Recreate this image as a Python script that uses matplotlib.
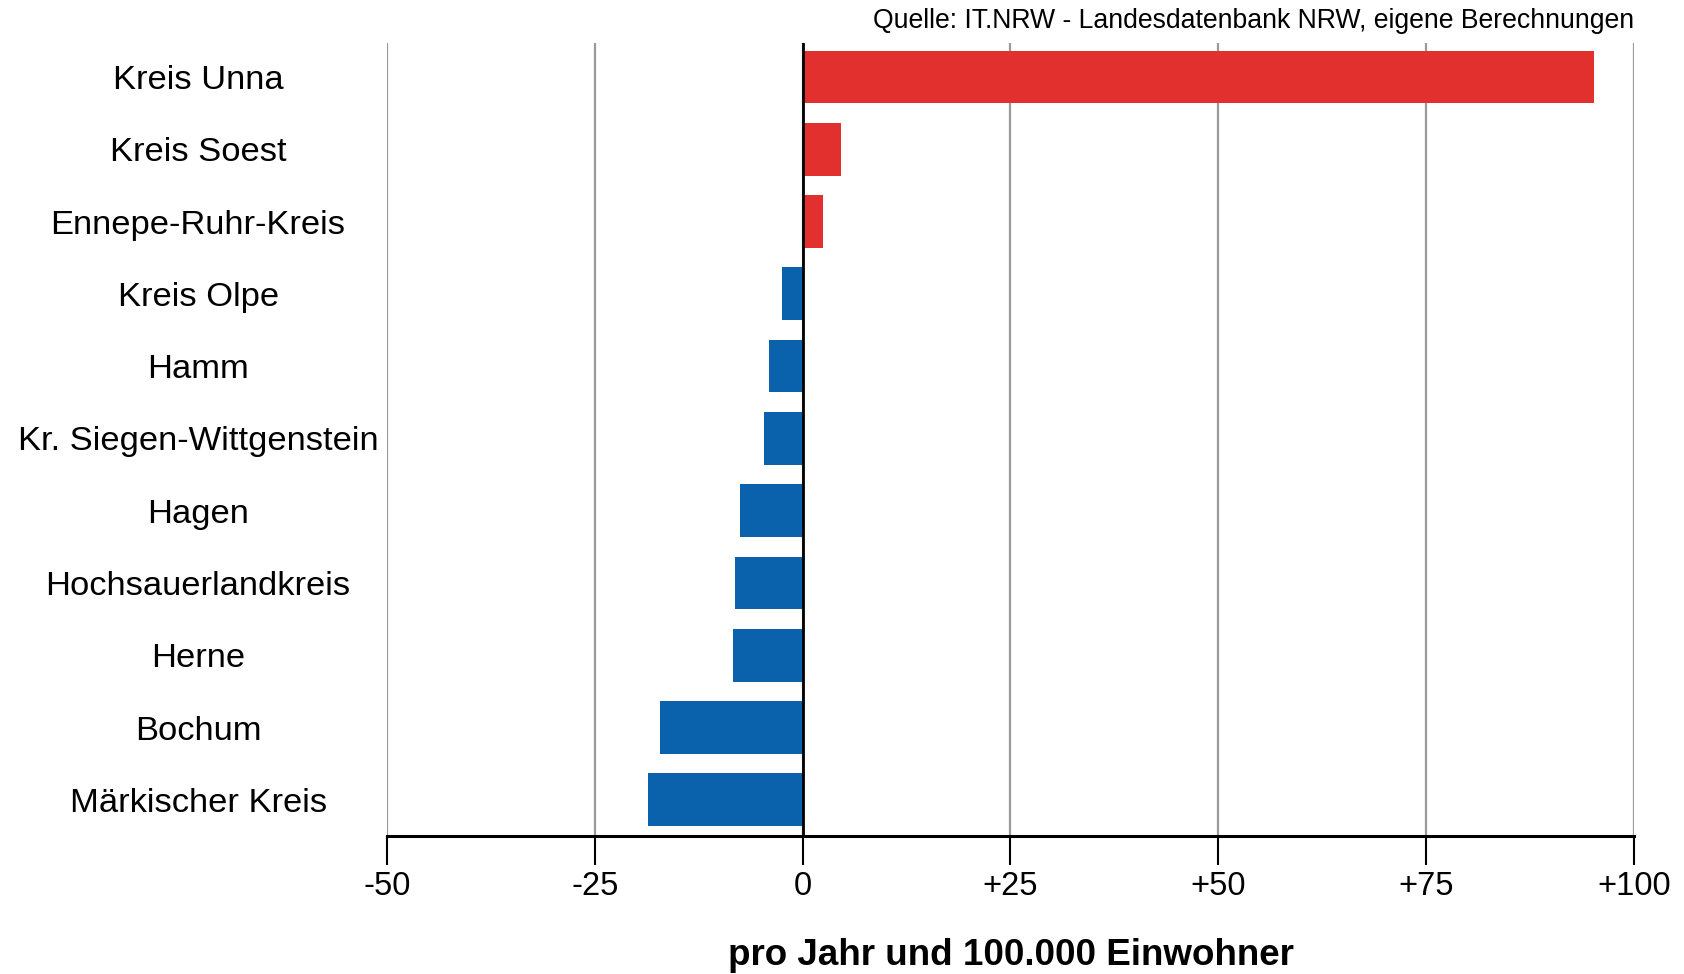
import matplotlib.pyplot as plt
import numpy as np

plt.rcParams['font.family'] = ['Liberation Sans', 'DejaVu Sans']

# Kreise / kreisfreie Staedte, von oben nach unten
regions = ['Kreis Unna', 'Kreis Soest', 'Ennepe-Ruhr-Kreis', 'Kreis Olpe', 'Hamm',
           'Kr. Siegen-Wittgenstein', 'Hagen', 'Hochsauerlandkreis', 'Herne',
           'Bochum', 'Märkischer Kreis']
values = [95.2, 4.6, 2.4, -2.5, -4.0, -4.6, -7.5, -8.1, -8.35, -17.1, -18.6]

xticks = [-50, -25, 0, 25, 50, 75, 100]
xticklabels = ['-50', '-25', '0', '+25', '+50', '+75', '+100']

red = '#e2302f'
blue = '#0a62ad'

fig = plt.figure(figsize=(16.84, 9.74), dpi=100)
ax = fig.add_axes([0.2298, 0.1417, 0.7405, 0.8142])

y = np.arange(len(regions))[::-1]
colors = [red if v > 0 else blue for v in values]
ax.barh(y, values, height=0.73, color=colors, zorder=3)

ax.set_xlim(-50, 100)
ax.set_ylim(-0.5, 10.47)
ax.set_xticks(xticks)
ax.set_xticklabels(xticklabels, fontsize=23.5)
ax.set_yticks(y)
ax.set_yticklabels(regions, fontsize=24.8)
for lbl in ax.get_yticklabels():
    lbl.set_horizontalalignment('center')

ax.tick_params(axis='y', length=0, pad=136)
ax.tick_params(axis='x', direction='out', length=21, width=1.5, color='black', pad=4)

ax.grid(axis='x', color='#9a9a9a', linewidth=1.6, zorder=1)
ax.axvline(0, color='black', linewidth=2, zorder=4)

for s in ['top', 'right', 'left']:
    ax.spines[s].set_visible(False)
ax.spines['bottom'].set_linewidth(2.2)
ax.spines['bottom'].set_zorder(5)

ax.set_xlabel('pro Jahr und 100.000 Einwohner', fontsize=26.5, fontweight='bold', labelpad=26)

fig.text(0.9703, 0.978, 'Quelle: IT.NRW - Landesdatenbank NRW, eigene Berechnungen',
         ha='right', va='center', fontsize=19.2)

fig.savefig('out.png', dpi=100, facecolor='white')
